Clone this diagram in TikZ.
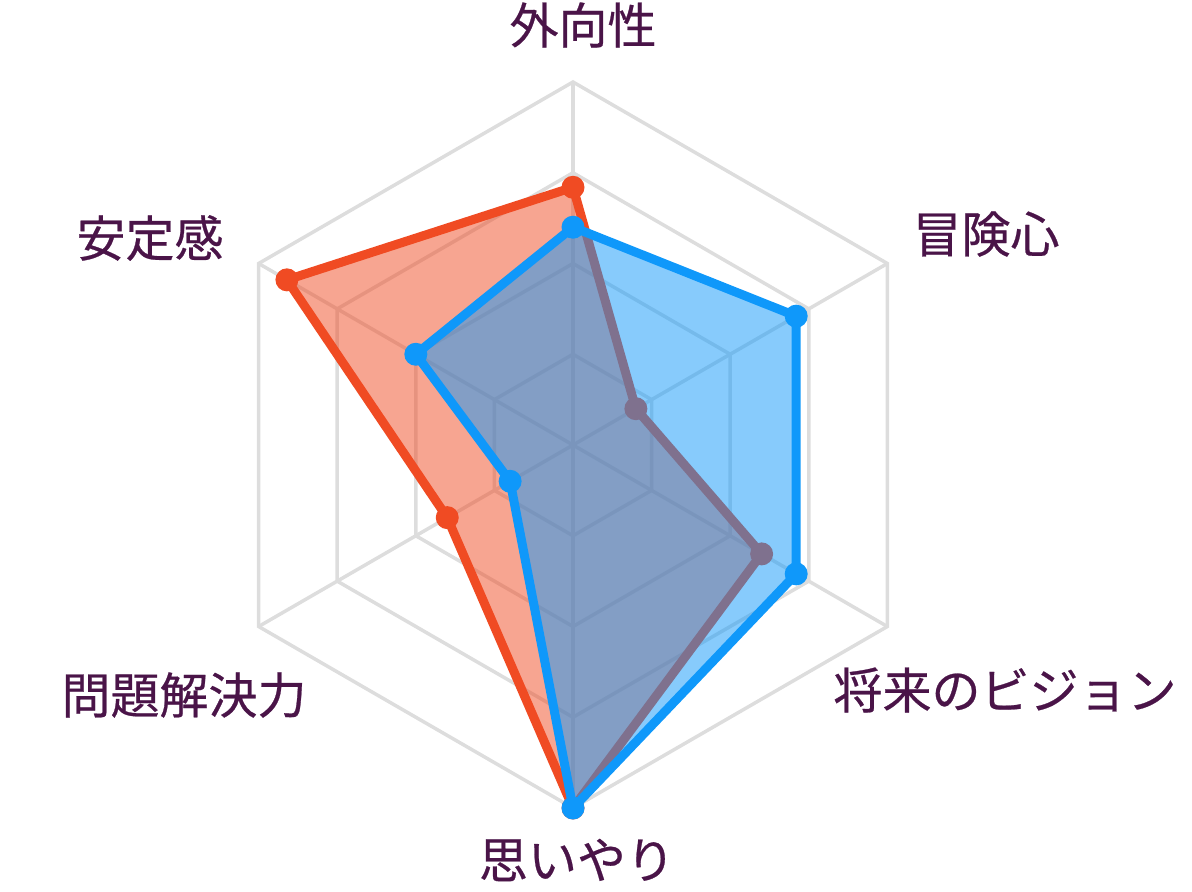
\documentclass[tikz,border=0pt]{standalone}
\usepackage{fontspec}
\newfontfamily\jpfont[FakeBold=0.5]{Noto Sans CJK JP}
\definecolor{gridgray}{RGB}{221,221,221}
\definecolor{redline}{RGB}{240,75,35}
\definecolor{blueline}{RGB}{15,152,250}
\definecolor{labelpurple}{RGB}{74,20,72}
\begin{document}
\begin{tikzpicture}[x=0.5pt, y=0.5pt,
    grid/.style={gridgray, line width=1.75pt},
    series/.style={line width=4.5pt, line join=round},
    lbl/.style={text=labelpurple, font=\jpfont\fontsize{24.5}{28}\selectfont, inner sep=0pt}]
\useasboundingbox (-573,-446) rectangle (619,445);
% grid
\foreach \r in {90.75,181.5,272.25,363}
{
    \draw[grid](90:\r)--(30:\r)--(-30:\r)--(-90:\r)--(-150:\r)--(150:\r)--cycle;
}
\foreach \a in {90,30,-30,-90,-150,150}
{
    \draw[grid](0,0)--(\a:363);
}
% red series
\foreach \a/\v [count=\i] in {90/.71,30/.2,-30/.6,-90/1,-150/.4,150/.91}
{
    \coordinate (r\i) at (\a:{363*\v});
}
\draw[series, redline, fill=redline, fill opacity=.5](r1)--(r2)--(r3)--(r4)--(r5)--(r6)--cycle;
\foreach \i in {1,...,6}
{
    \fill[redline](r\i)circle[radius=5.75pt];
}
% blue series
\foreach \a/\v [count=\i] in {90/.6,30/.71,-30/.71,-90/1,-150/.2,150/.5}
{
    \coordinate (b\i) at (\a:{363*\v});
}
\draw[series, blueline, fill=blueline, fill opacity=.5](b1)--(b2)--(b3)--(b4)--(b5)--(b6)--cycle;
\foreach \i in {1,...,6}
{
    \fill[blueline](b\i)circle[radius=5.75pt];
}
% labels
\node[lbl] (extro) at (10,420) {外向性};
\node[lbl] (adven) at (413,211) {冒険心};
\node[lbl] (vision) at (432,-245) {将来のビジョン};
\node[lbl] (empathy) at (4,-415) {思いやり};
\node[lbl] (solve) at (-389,-250) {問題解決力};
\node[lbl] (stable) at (-423,207) {安定感};
\end{tikzpicture}
\end{document}
